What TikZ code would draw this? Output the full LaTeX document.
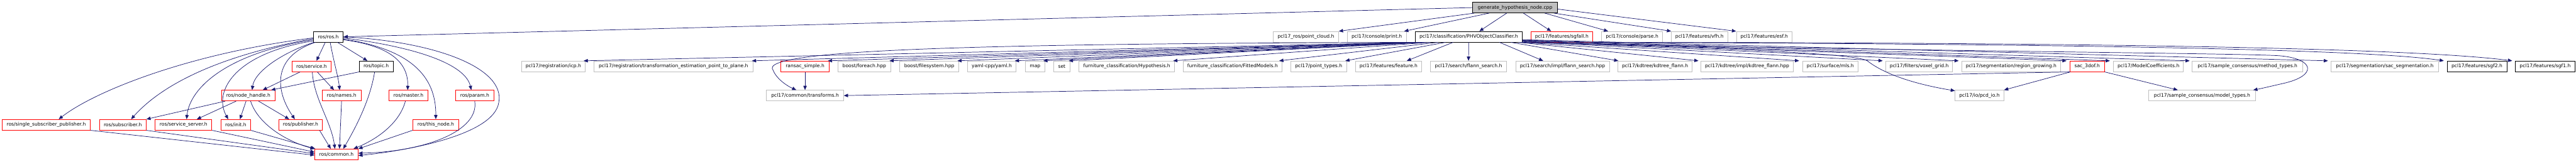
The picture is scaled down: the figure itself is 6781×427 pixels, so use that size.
\documentclass[tikz,border=0pt]{standalone}
\usepackage{fontspec}
\setmainfont{DejaVu Sans}
\usetikzlibrary{arrows.meta}
\definecolor{edgeblue}{HTML}{191970}
\definecolor{extgray}{HTML}{BFBFBF}
\definecolor{truncred}{HTML}{FF0000}
\tikzset{
  box/.style={draw, fill=white, minimum height=28pt, inner xsep=2pt, inner ysep=0pt,
    font=\fontsize{12.6}{14}\selectfont, line width=1.3pt, anchor=west},
  redbox/.style={box, draw=truncred},
  blkbox/.style={box, draw=black},
  extbox/.style={box, draw=extgray},
  topbox/.style={box, draw=black, fill=extgray},
  edge/.style={draw=edgeblue, line width=1.2pt, -{Triangle[length=11pt,width=9pt]}},
}
\newcommand{\nd}[6]{\node[#1, minimum width={#4-#3}] (#2) at (#3,#5) {#6};}
\begin{document}
\begin{tikzpicture}[x=1pt,y=-1pt]
\useasboundingbox (0,0) rectangle (6781,427);
\fill[white] (0,0) rectangle (6781,427);
% row 0
\nd{topbox}{gh}{3876}{4099}{20}{generate\_hypothesis\_node.cpp}
% row 1
\nd{blkbox}{ros}{824}{903}{97}{ros/ros.h}
\nd{extbox}{pcr}{3351}{3523}{97}{pcl17\_ros/point\_cloud.h}
\nd{extbox}{cprint}{3546}{3701}{97}{pcl17/console/print.h}
\nd{blkbox}{phv}{3725}{4006}{97}{pcl17/classification/PHVObjectClassifier.h}
\nd{redbox}{sgfall}{4029}{4192}{97}{pcl17/features/sgfall.h}
\nd{extbox}{cparse}{4215}{4376}{97}{pcl17/console/parse.h}
\nd{extbox}{vfh}{4399}{4547}{97}{pcl17/features/vfh.h}
\nd{extbox}{esf}{4570}{4717}{97}{pcl17/features/esf.h}
% row 2
\nd{redbox}{rsrv}{768}{871}{175}{ros/service.h}
\nd{blkbox}{rtopic}{945}{1034}{175}{ros/topic.h}
\nd{extbox}{icp}{1373}{1539}{175}{pcl17/registration/icp.h}
\nd{extbox}{tepp}{1562}{1982}{175}{pcl17/registration/transformation\_estimation\_point\_to\_plane.h}
\nd{redbox}{rans}{2055}{2182}{175}{ransac\_simple.h}
\nd{extbox}{bfor}{2205}{2344}{175}{boost/foreach.hpp}
\nd{extbox}{bfs}{2368}{2523}{175}{boost/filesystem.hpp}
\nd{extbox}{yaml}{2546}{2674}{175}{yaml-cpp/yaml.h}
\nd{extbox}{map}{2699}{2749}{175}{map}
\nd{extbox}{set}{2773}{2816}{175}{set}
\nd{extbox}{hyp}{2840}{3091}{175}{furniture\_classification/Hypothesis.h}
\nd{extbox}{fit}{3114}{3374}{175}{furniture\_classification/FittedModels.h}
\nd{extbox}{ptypes}{3397}{3544}{175}{pcl17/point\_types.h}
\nd{extbox}{feat}{3567}{3742}{175}{pcl17/features/feature.h}
\nd{extbox}{fsearch}{3765}{3965}{175}{pcl17/search/flann\_search.h}
\nd{extbox}{fsearchi}{3989}{4236}{175}{pcl17/search/impl/flann\_search.hpp}
\nd{extbox}{kdt}{4258}{4454}{175}{pcl17/kdtree/kdtree\_flann.h}
\nd{extbox}{kdti}{4477}{4720}{175}{pcl17/kdtree/impl/kdtree\_flann.hpp}
\nd{extbox}{mls}{4744}{4891}{175}{pcl17/surface/mls.h}
\nd{extbox}{voxel}{4964}{5139}{175}{pcl17/filters/voxel\_grid.h}
\nd{extbox}{rgrow}{5163}{5424}{175}{pcl17/segmentation/region\_growing.h}
\nd{redbox}{sac3}{5448}{5539}{175}{sac\_3dof.h}
\nd{extbox}{mcoef}{5563}{5747}{175}{pcl17/ModelCoefficients.h}
\nd{extbox}{mtypes}{5770}{6061}{175}{pcl17/sample\_consensus/method\_types.h}
\nd{extbox}{sacseg}{6136}{6418}{175}{pcl17/segmentation/sac\_segmentation.h}
\nd{blkbox}{sgf2}{6441}{6598}{175}{pcl17/features/sgf2.h}
\nd{blkbox}{sgf1}{6621}{6777}{175}{pcl17/features/sgf1.h}
% row 3
\nd{redbox}{nh}{583}{723}{252}{ros/node\_handle.h}
\nd{redbox}{names}{847}{950}{252}{ros/names.h}
\nd{redbox}{master}{1023}{1126}{252}{ros/master.h}
\nd{redbox}{param}{1199}{1299}{252}{ros/param.h}
\nd{extbox}{tf}{2017}{2220}{252}{pcl17/common/transforms.h}
\nd{extbox}{pcd}{5146}{5274}{252}{pcl17/io/pcd\_io.h}
\nd{extbox}{mtyp}{5656}{5936}{252}{pcl17/sample\_consensus/model\_types.h}
% row 4
\nd{redbox}{ssp}{5}{237}{329}{ros/single\_subscriber\_publisher.h}
\nd{redbox}{sub}{261}{384}{329}{ros/subscriber.h}
\nd{redbox}{ssrv}{408}{557}{329}{ros/service\_server.h}
\nd{redbox}{init}{581}{659}{329}{ros/init.h}
\nd{redbox}{pub}{733}{848}{329}{ros/publisher.h}
\nd{redbox}{thisn}{1086}{1207}{329}{ros/this\_node.h}
% row 5
\nd{redbox}{common}{828}{942}{407}{ros/common.h}

% ---- edges from generate_hypothesis_node.cpp
\draw[edge] (gh.west) -- (ros.east);
\draw[edge] ([xshift=5pt]gh.south west) -- (pcr.north east);
\draw[edge] ([xshift=44pt]gh.south west) -- ([xshift=-6pt]cprint.north east);
\draw[edge] ([xshift=-22pt]gh.south) -- ([xshift=28pt]phv.north);
\draw[edge] ([xshift=22pt]gh.south) -- ([xshift=-28pt]sgfall.north);
\draw[edge] ([xshift=-34pt]gh.south east) -- ([xshift=-63pt]cparse.north);
\draw[edge] ([xshift=-10pt]gh.south east) -- (vfh.north west);
\draw[edge] ([yshift=-4pt]gh.east) -- (esf.north west);

% ---- edges from ros/ros.h
\draw[edge] ([yshift=-3pt]ros.west) .. controls (500,140) and (250,240) .. ([xshift=33pt]ssp.north);
\draw[edge] ([yshift=-5pt]ros.west) .. controls (560,150) and (420,230) .. ([xshift=22pt]sub.north);
\draw[edge] ([yshift=-8pt]ros.west) .. controls (600,140) and (500,230) .. ([xshift=8pt]ssrv.north);
\draw[edge] ([yshift=-11pt]ros.west) .. controls (620,140) and (560,240) .. ([xshift=-20pt]init.north);
\draw[edge] ([xshift=2pt]ros.south west) .. controls (740,140) and (670,190) .. ([xshift=10pt]nh.north);
\draw[edge] ([xshift=6pt]ros.south west) .. controls (715,150) and (725,240) .. ([xshift=-15pt]pub.north);
\draw[edge] ([xshift=-8pt]ros.south) -- ([xshift=13pt]rsrv.north);
\draw[edge] ([xshift=5pt]ros.south) .. controls (880,170) and (890,200) .. ([xshift=-5pt]names.north);
\draw[edge] ([xshift=24pt]ros.south) -- ([xshift=-23pt]rtopic.north);
\draw[edge] ([yshift=-8pt]ros.east) .. controls (1020,120) and (1075,160) .. ([xshift=-2pt]master.north);
\draw[edge] ([yshift=-6pt]ros.east) .. controls (1080,130) and (1148,200) .. (thisn.north);
\draw[edge] ([yshift=-3pt]ros.east) .. controls (1100,125) and (1225,170) .. ([xshift=-9pt]param.north);
\draw[edge] (ros.east) .. controls (1150,110) and (1330,180) .. (1313,270)
   .. controls (1300,360) and (1050,400) .. ([yshift=-3pt]common.east);

% ---- ros second level
\draw[edge] ([xshift=-30pt]rsrv.south) -- ([xshift=38pt]nh.north);
\draw[edge] ([xshift=15pt]rsrv.south) -- ([xshift=-20pt]names.north);
\draw[edge] ([xshift=2pt]rsrv.south) .. controls (826,260) and (872,320) .. ([xshift=-4pt]common.north);
\draw[edge] (rtopic.south west) -- ([xshift=60pt]nh.north);
\draw[edge] ([xshift=-4pt]rtopic.south) .. controls (975,260) and (940,330) .. ([xshift=18pt]common.north);
\draw[edge] ([xshift=-6pt]nh.south) -- ([xshift=11pt]init.north);
\draw[edge] ([xshift=27pt]nh.south) -- ([xshift=-30pt]pub.north);
\draw[edge] ([xshift=-32pt]nh.south) -- ([xshift=35pt]ssrv.north);
\draw[edge] ([xshift=10pt]nh.south west) -- (sub.north east);
\draw[edge] ([xshift=6pt]nh.south) .. controls (680,330) and (760,375) .. (common.north west);
\draw[edge] (names.south) -- ([xshift=8pt]common.north);
\draw[edge] ([xshift=-8pt]master.south) .. controls (1050,330) and (985,370) .. ([xshift=45pt]common.north);
\draw[edge] (param.south) .. controls (1262,345) and (1120,400) .. ([yshift=3pt]common.east);
\draw[edge] (thisn.south west) -- (common.north east);
\draw[edge] ([xshift=-8pt]pub.south east) -- ([xshift=-15pt]common.north);
\draw[edge] (init.south east) -- ([xshift=2pt]common.north west);
\draw[edge] (ssrv.south east) -- ([yshift=6pt]common.west);
\draw[edge] (sub.south east) -- ([yshift=2pt]common.west);
\draw[edge] (ssp.south east) -- ([yshift=-2pt]common.west);

% ---- edges from PHVObjectClassifier.h
\draw[edge] (phv.south west) -- ([xshift=-4pt]icp.north east);
\draw[edge] ([xshift=4pt]phv.south west) -- ([xshift=-4pt]tepp.north east);
\draw[edge] ([xshift=8pt]phv.south west) -- ([xshift=-4pt]rans.north east);
\draw[edge] ([xshift=12pt]phv.south west) -- ([xshift=-4pt]bfor.north east);
\draw[edge] ([xshift=16pt]phv.south west) -- ([xshift=-4pt]bfs.north east);
\draw[edge] ([xshift=20pt]phv.south west) -- ([xshift=-4pt]yaml.north east);
\draw[edge] ([xshift=24pt]phv.south west) -- ([xshift=-4pt]map.north east);
\draw[edge] ([xshift=28pt]phv.south west) -- ([xshift=-4pt]set.north east);
\draw[edge] ([xshift=40pt]phv.south west) -- ([xshift=-4pt]hyp.north east);
\draw[edge] ([xshift=60pt]phv.south west) -- ([xshift=-8pt]fit.north east);
\draw[edge] ([xshift=80pt]phv.south west) -- ([xshift=-4pt]ptypes.north east);
\draw[edge] ([xshift=100pt]phv.south west) -- ([xshift=-40pt]feat.north east);
\draw[edge] (phv.south) -- (fsearch.north);
\draw[edge] ([xshift=-60pt]phv.south east) -- ([xshift=-51pt]fsearchi.north);
\draw[edge] ([xshift=-30pt]phv.south east) -- ([xshift=2pt]kdt.north west);
\draw[edge] ([xshift=-10pt]phv.south east) -- ([xshift=-6pt]kdti.north west);
\draw[edge] (phv.south east) -- ([xshift=-8pt]mls.north west);
\draw[edge] ([yshift=2pt]phv.south east) -- ([xshift=-8pt]voxel.north west);
\draw[edge] ([yshift=3pt]phv.south east) -- ([xshift=-7pt]rgrow.north west);
\draw[edge] ([yshift=4pt]phv.south east) -- ([xshift=-8pt]sac3.north west);
\draw[edge] ([yshift=5pt]phv.south east) -- ([xshift=-9pt]mcoef.north west);
\draw[edge] ([yshift=6pt]phv.south east) -- ([xshift=-6pt]mtypes.north west);
\draw[edge] ([yshift=7pt]phv.south east) -- ([xshift=-8pt]sacseg.north west);
\draw[edge] ([xshift=-6pt]phv.south west) .. controls (2600,115) and (1990,130) .. (2035,185)
   .. controls (2045,210) and (2075,228) .. ([xshift=-23pt]tf.north);
\draw[edge] ([xshift=-4pt]phv.south east) .. controls (4500,125) and (4880,140) .. (4915,160)
   .. controls (4940,180) and (5000,215) .. ([yshift=-2pt]pcd.north west);
\draw[edge] ([xshift=-2pt]phv.south east) .. controls (5000,135) and (5900,140) .. (6000,147)
   .. controls (6095,155) and (6100,200) .. (6010,220)
   .. controls (5975,228) and (5950,234) .. ([xshift=-6pt]mtyp.north east);

% ---- other
\draw[edge] (sgfall.south east) .. controls (5200,115) and (6200,125) .. ([xshift=-8pt]sgf2.north west);
\draw[edge] ([xshift=-4pt]sgfall.south east) .. controls (5200,112) and (6300,120) .. ([xshift=-8pt]sgf1.north west);
\draw[edge] (rans.south) -- (tf.north);
\draw[edge] (sac3.south west) -- (tf.east);
\draw[edge] ([xshift=2pt]sac3.south west) -- (pcd.north east);
\draw[edge] (sac3.south east) -- ([xshift=-64pt]mtyp.north);
\end{tikzpicture}
\end{document}
